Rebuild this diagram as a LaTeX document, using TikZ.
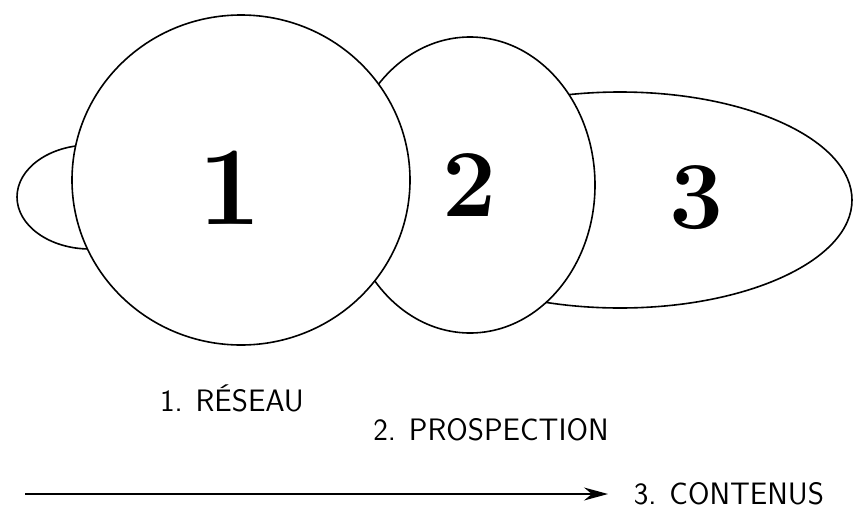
\documentclass[tikz,border=0pt]{standalone}
\usepackage{tikz}
\usetikzlibrary{arrows.meta}

\tikzset{
  stagetext/.style={font=\sffamily\fontsize{31}{33}\selectfont, inner sep=1pt},
  bignum/.style={font=\bfseries\fontsize{#1}{#1}\selectfont}
}

\begin{document}
\begin{tikzpicture}[x=1pt,y=-1pt,line width=1.6pt]
        \useasboundingbox (0,0) rectangle (854,512);
        % the three stages, back to front
        \draw (90,197) ellipse (73pt and 52pt);
        \filldraw[fill=white] (620,200) ellipse (232pt and 108pt);
        \filldraw[fill=white] (470,185) ellipse (125pt and 148pt);
        \filldraw[fill=white] (241,180) ellipse (169pt and 165pt);
        \node[bignum=112] (n1) at (230,188) {1};
        \node[bignum=96] (n2) at (470,185) {2};
        \node[bignum=96] (n3) at (697,198) {3};
        \node[stagetext] (reseau) at (232,398) {1. RÉSEAU};
        \node[stagetext] (prospection) at (491,430) {2. PROSPECTION};
        \node[stagetext, anchor=west] (contenus) at (632,494) {3. CONTENUS};
        \coordinate (start) at (25,494);
        \draw[-{Stealth[length=24pt,width=13pt]}, shorten >=24pt] (start) -- (contenus.west);
    \end{tikzpicture}
\end{document}
